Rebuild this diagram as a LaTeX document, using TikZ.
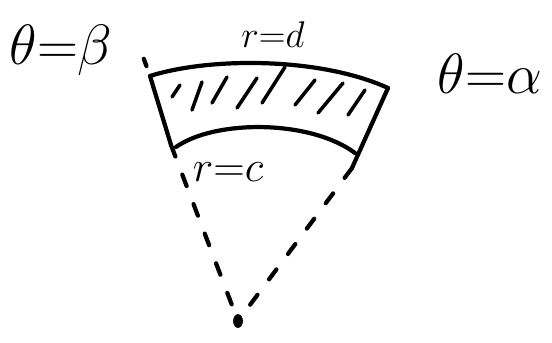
\documentclass[tikz,border=0pt]{standalone}
\usepackage{amsmath,amssymb}
\usetikzlibrary{calc}

\tikzset{
    pen/.style={line width=2.4pt, line cap=round, line join=round},
    ray/.style={pen, dash pattern=on 7pt off 11pt},
    hatch/.style={line width=2pt, line cap=round},
    lbl/.style={font=\Huge, inner sep=0pt, scale=1.3},
    rlbl/.style={font=\Huge, inner sep=0pt}
}

\begin{document}
\begin{tikzpicture}
    \useasboundingbox (0,0) rectangle (11.04,6.84);

    % --- Corners of the region ---
    \coordinate (O) at (4.76,0.42);
    \coordinate (A) at (3.00,5.32);
    \coordinate (B) at (7.76,5.08);
    \coordinate (C) at (3.42,3.94);
    \coordinate (D) at (7.04,3.48);
    \coordinate (Cin) at (3.52,3.90);
    \coordinate (Din) at (7.10,3.78);

    % --- Outer arc r=d and inner arc r=c ---
    \draw[pen] (A) .. controls (4.2,5.7) and (6.4,5.7) .. (B);
    \draw[pen] (Cin) .. controls (4.3,4.45) and (6.2,4.45) .. (Din);

    % --- Sides theta=beta and theta=alpha ---
    \draw[pen] (A) -- (C);
    \draw[pen] (B) -- (D);

    % --- Hatching ---
    \foreach \x/\y/\u/\v in {3.44/4.90/3.60/5.14, 3.84/4.64/4.04/5.20,
                             4.24/4.78/4.54/5.30, 4.74/4.68/5.14/5.28,
                             5.24/4.78/5.70/5.50, 5.90/4.74/6.30/5.24,
                             6.36/4.58/6.86/5.18, 6.96/4.54/7.30/5.04}
        \draw[hatch] (\x,\y) -- (\u,\v);

    % --- Dashed rays to the origin ---
    \draw[ray] (C) -- (O);
    \draw[ray] (D) -- (O);
    \draw[pen] ($(O)!1.04!(A)$) -- ($(O)!1.07!(A)$);

    % --- Origin ---
    \filldraw (O) ellipse (0.09 and 0.13);

    % --- Labels ---
    \node[lbl] (beta) at (1.22,5.84) {$\theta{=}\beta$};
    \node[rlbl, scale=0.85] (d) at (5.46,6.14) {$r{=}d$};
    \node[lbl] (alpha) at (9.80,5.36) {$\theta{=}\alpha$};
    \node[rlbl] (c) at (4.56,3.40) {$r{=}c$};

\end{tikzpicture}
\end{document}
